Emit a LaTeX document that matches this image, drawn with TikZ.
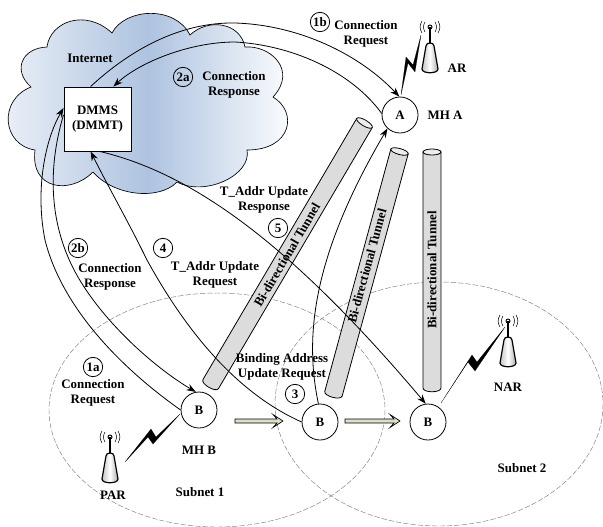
\documentclass[tikz,border=0pt]{standalone}
\usepackage{fontspec}
\setmainfont{Liberation Serif}
\usetikzlibrary{arrows.meta}
\definecolor{cloudblue}{HTML}{AEC3E0}
\definecolor{cloudpale}{HTML}{EDF1F8}
\definecolor{tunnelgray}{HTML}{DCDCDC}
\definecolor{movefill}{HTML}{DDDDC8}
\newcommand{\tunnelbody}[4]{% top x, top y, angle, length
  \begin{scope}[shift={(#1,#2)},rotate=#3]
    \draw[tunnelline,fill=tunnelgray] (-#4,9) -- (0,9) -- (0,-9) -- (-#4,-9)
       .. controls (-#4-5,-9) and (-#4-5,9) .. (-#4,9) -- cycle;
    \draw[tunnelline,fill=tunnelgray!50] (0,0) ellipse [x radius=3,y radius=9];
  \end{scope}}
\tikzset{
  lbl/.style={font=\fontsize{9.7}{11.25}\selectfont\bfseries,align=center,inner sep=0pt},
  tunneltext/.style={font=\fontsize{9.7}{11.25}\selectfont\bfseries,inner sep=0pt},
  host/.style={draw,circle,minimum size=27pt,inner sep=0pt,line width=.6pt,fill=white,font=\fontsize{9.7}{11.25}\selectfont\bfseries},
  stepmark/.style={draw,circle,minimum size=14.5pt,inner sep=0pt,line width=.6pt,font=\fontsize{9.7}{11.25}\selectfont\bfseries},
  subnet/.style={draw=gray,dashed,dash pattern=on 4pt off 1.5pt,line width=.35pt},
  tunnelline/.style={line width=.6pt},
  flow/.style={line width=.6pt,-{Stealth[length=7pt,width=5pt]}},
  bolt/.style={fill=black,draw=black,line width=.1pt},
  movearrow/.style={draw,fill=movefill,line width=.5pt},
  antenna/.pic={
    \draw[line width=1.2pt] (0,0) -- (0,16);
    \draw[line width=.7pt] (0,0) circle [radius=2];
    \draw[line width=.4pt] (-5,-5) .. controls (-7,-2) and (-7,2) .. (-5,5);
    \draw[line width=.4pt] (5,-5) .. controls (7,-2) and (7,2) .. (5,5);
    \draw[line width=.4pt] (-8,-6) .. controls (-10.5,-2) and (-10.5,2) .. (-8,6);
    \draw[line width=.4pt] (8,-6) .. controls (10.5,-2) and (10.5,2) .. (8,6);
    \shadedraw[line width=.9pt,left color=gray!45,right color=gray!65,middle color=white]
      (-4,19) .. controls (-4,15) and (4,15) .. (4,19) -- (8,42)
      .. controls (8,47) and (-8,47) .. (-8,42) -- cycle;
  }
}
\begin{document}
\begin{tikzpicture}[x=0.75pt,y=-0.75pt]
\useasboundingbox (0,0) rectangle (603,526);
% subnets
\draw[subnet] (217,410) ellipse [x radius=168,y radius=117];
\draw[subnet] (439,404) ellipse [x radius=164,y radius=122];
% cloud
\shadedraw[line width=.5pt,left color=cloudpale,right color=white,middle color=cloudblue]
  (31,87) .. controls (12,70) and (22,48) .. (47,47)
  .. controls (50,22) and (85,8) .. (112,33)
  .. controls (125,8) and (175,5) .. (190,35)
  .. controls (208,18) and (240,22) .. (245,47)
  .. controls (270,45) and (298,70) .. (273,97)
  .. controls (298,112) and (292,150) .. (247,150)
  .. controls (252,175) and (205,197) .. (177,182)
  .. controls (160,200) and (115,197) .. (93,172)
  .. controls (70,195) and (30,190) .. (35,150)
  .. controls (2,145) and (-2,100) .. (31,87) -- cycle;
% tunnels
\tunnelbody{364.5}{123}{59.5}{303}
\tunnelbody{399.5}{151.5}{74.75}{251}
\tunnelbody{432}{152}{90}{236}
\node[tunneltext,rotate=59.5] (t1) at (287,255) {Bi-directional Tunnel};
\node[tunneltext,rotate=74.75] (t2) at (367,266) {Bi-directional Tunnel};
\node[tunneltext,rotate=90] (t3) at (432,270) {Bi-directional Tunnel};
% nodes
\node[draw,fill=white,line width=.7pt,minimum width=50.25pt,minimum height=48pt,inner sep=0pt,
      font=\fontsize{9.7}{11.25}\selectfont\bfseries,align=center] (dmms) at (97.5,119) {DMMS\\(DMMT)};
\node[host] (A) at (400,115) {A};
\node[host] (B1) at (199,410) {B};
\node[host] (B2) at (320,422) {B};
\node[host] (B3) at (428,422) {B};
% antennas
\pic (ar) at (430,27) {antenna};
\pic (par) at (110,437) {antenna};
\pic (nar) at (508,321) {antenna};
% lightning
\fill[bolt] (401,95) -- (406,57) -- (413,65) -- (421,35) -- (415,72) -- (408,63) -- cycle;
\fill[bolt] (125,462) -- (151,429) -- (156,437) -- (180,414) -- (153,444) -- (148,437) -- cycle;
\fill[bolt] (441,403) -- (472,355) -- (477,362) -- (505,327) -- (475,371) -- (468,362) -- cycle;
% connectors
\draw[flow] (dmms.102) .. controls (130,50) and (180,22) .. (235,23)
   .. controls (300,25) and (360,55) .. (A.92);
\draw[flow] (A.175) .. controls (350,70) and (290,45) .. (235,42)
   .. controls (190,42) and (140,62) .. (dmms.64);
\draw[flow] (B1.180) .. controls (110,360) and (60,300) .. (45,240)
   .. controls (35,190) and (45,140) .. (dmms.162);
\draw[flow] (dmms.173) .. controls (50,160) and (48,210) .. (68,257)
   .. controls (90,310) and (150,365) .. (B1.100);
\draw[flow] (B2.180) .. controls (230,390) and (180,320) .. (147,260)
   .. controls (130,225) and (110,190) .. (dmms.258);
\draw[flow] (dmms.274) .. controls (200,175) and (300,255) .. (B3.97);
\draw[flow] (B2.95) .. controls (305,340) and (310,260) .. (A.227);
% handover arrows
\path[movearrow] (235,419) -- (277,419) -- (273,414.5) -- (283,421) -- (273,427.5) -- (277,423) -- (235,423) -- cycle;
\path[movearrow] (345,419) -- (394,419) -- (390,414.5) -- (400,421) -- (390,427.5) -- (394,423) -- (345,423) -- cycle;
% labels
\node[lbl] (linternet) at (90,58) {Internet};
\node[stepmark] (s2a) at (183,77) {2a};
\node[lbl] (l2a) at (234,85) {Connection\\Response};
\node[stepmark] (s1b) at (320,22) {1b};
\node[lbl] (l1b) at (366,34) {Connection\\Request};
\node[lbl] (lar) at (457,68) {AR};
\node[lbl] (lmha) at (445,115) {MH A};
\node[lbl] (l5) at (264,200) {T\_Addr Update\\Response};
\node[stepmark] (s5) at (278,228) {5};
\node[stepmark] (s2b) at (78,248) {2b};
\node[lbl] (l2b) at (110,277) {Connection\\Response};
\node[stepmark] (s4) at (163,248) {4};
\node[lbl] (l4) at (215,275) {T\_Addr Update\\Request};
\node[stepmark] (s1a) at (93,367) {1a};
\node[lbl] (l1a) at (93,393) {Connection\\Request};
\node[lbl] (lmhb) at (199,450) {MH B};
\node[lbl] (lpar) at (113,495) {PAR};
\node[lbl] (lsub1) at (200,492) {Subnet 1};
\node[lbl] (l3) at (282,367) {Binding Address\\Update Request};
\node[stepmark] (s3) at (295,394) {3};
\node[lbl] (lnar) at (508,387) {NAR};
\node[lbl] (lsub2) at (522,468) {Subnet 2};
\end{tikzpicture}
\end{document}
